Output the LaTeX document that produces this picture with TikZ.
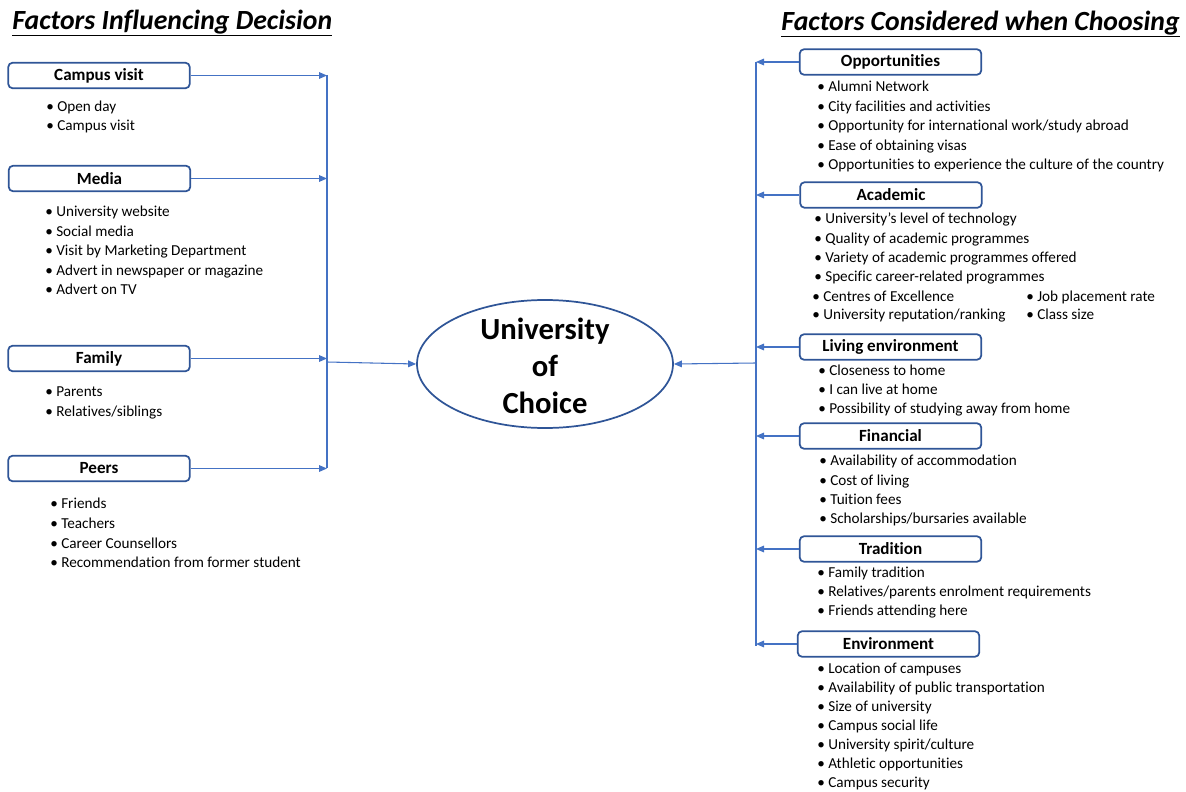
\documentclass[tikz,border=0pt]{standalone}
\usepackage{fontspec}
\setmainfont{Carlito}[Ligatures=NoCommon]
\usepackage{tikz}
\usetikzlibrary{arrows.meta, shapes}

\definecolor{boxblue}{HTML}{2F5597}
\definecolor{linkblue}{HTML}{4472C4}

\tikzset{
  catbox/.style={draw=boxblue, line width=1.3pt, rounded corners=3pt,
                 minimum width=136pt, minimum height=19pt, inner sep=0pt,
                 font=\fontsize{12.8}{14}\selectfont\bfseries},
  item/.style={anchor=west, inner sep=0pt, text height=7.8pt, text depth=2.2pt,
               font=\fontsize{11.4}{13}\selectfont},
  link/.style={draw=linkblue, line width=0.8pt, -{Triangle[length=6pt, width=5pt]}},
  bus/.style={draw=linkblue, line width=0.8pt},
  heading/.style={inner sep=0pt, font=\fontsize{20.8}{24}\selectfont\bfseries\itshape},
  choice/.style={ellipse, draw=boxblue, line width=1.3pt,
                 minimum width=192pt, minimum height=96pt}
}

\begin{document}
\begin{tikzpicture}[x=0.75pt, y=-0.75pt]
  \path[use as bounding box] (0,0) rectangle (1186,792);

  % titles
  \node[heading, anchor=west] (lefttitle) at (12,23) {\underline{Factors Influencing Decision}};
  \node[heading, anchor=east] (righttitle) at (1180,24) {\underline{Factors Considered when Choosing}};

  % centre
  \node[choice] (choice) at (545,364) {};
  \node[align=center, font=\fontsize{23}{28}\selectfont\bfseries] (choicetext) at (545,366)
    {University\\of\\Choice};

  % left side
  \node[catbox] (visit) at (99,75.5) {Campus visit};
  \node[catbox] (media) at (99.5,178.5) {Media};
  \node[catbox] (family) at (99,358.5) {Family};
  \node[catbox] (peers) at (99,468.5) {Peers};

  \foreach \t [count=\i from 0] in {Open day, Campus visit}
    \node[item] (cv-\i) at (46,{108+19*\i}) {\textbullet\ \t};
  \foreach \t [count=\i from 0] in {University website, Social media,
      Visit by Marketing Department, Advert in newspaper or magazine, Advert on TV}
    \node[item] (md-\i) at (45,{213+19.5*\i}) {\textbullet\ \t};
  \foreach \t [count=\i from 0] in {Parents, {Relatives/siblings}}
    \node[item] (fm-\i) at (45,{393+20*\i}) {\textbullet\ \t};
  \foreach \t [count=\i from 0] in {Friends, Teachers, Career Counsellors,
      Recommendation from former student}
    \node[item] (pr-\i) at (50,{505+19.7*\i}) {\textbullet\ \t};

  \coordinate (lbus) at (327,75);
  \coordinate (lbusend) at (327,468);
  \coordinate (ljoin) at (327,362);
  \draw[bus] (lbus) -- (lbusend);
  \foreach \b in {visit, media, family, peers}
    \draw[link] (\b.east) -- (\b.east -| lbus);
  \draw[link] (ljoin) -- (choice.west);

  % right side
  \node[catbox] (opp) at (890.5,62) {Opportunities};
  \node[catbox] (acad) at (891,195) {Academic};
  \node[catbox] (living) at (890.5,347) {Living environment};
  \node[catbox] (fin) at (890.5,436) {Financial};
  \node[catbox] (trad) at (890.5,549) {Tradition};
  \node[catbox] (env) at (888.5,644) {Environment};

  \foreach \t [count=\i from 0] in {Alumni Network, City facilities and activities,
      {Opportunity for international work/study abroad}, Ease of obtaining visas,
      Opportunities to experience the culture of the country}
    \node[item] (op-\i) at (817,{88+19.5*\i}) {\textbullet\ \t};
  \foreach \t [count=\i from 0] in {University’s level of technology,
      Quality of academic programmes, Variety of academic programmes offered,
      Specific career-related programmes}
    \node[item] (ac-\i) at (814,{220+19.3*\i}) {\textbullet\ \t};
  \node[item] (ac-4) at (812,298) {\textbullet\ Centres of Excellence};
  \node[item] (ac-5) at (812,316) {\textbullet\ University reputation/ranking};
  \node[item] (ac-6) at (1026,298) {\textbullet\ Job placement rate};
  \node[item] (ac-7) at (1026,316) {\textbullet\ Class size};
  \foreach \t [count=\i from 0] in {Closeness to home, I can live at home,
      Possibility of studying away from home}
    \node[item] (lv-\i) at (818,{372+19*\i}) {\textbullet\ \t};
  \foreach \t [count=\i from 0] in {Availability of accommodation, Cost of living,
      Tuition fees, {Scholarships/bursaries available}}
    \node[item] (fn-\i) at (819,{462+19.3*\i}) {\textbullet\ \t};
  \foreach \t [count=\i from 0] in {Family tradition,
      {Relatives/parents enrolment requirements}, Friends attending here}
    \node[item] (tr-\i) at (817,{574+19*\i}) {\textbullet\ \t};
  \foreach \t [count=\i from 0] in {Location of campuses,
      Availability of public transportation, Size of university, Campus social life,
      {University spirit/culture}, Athletic opportunities, Campus security}
    \node[item] (en-\i) at (817,{670+19*\i}) {\textbullet\ \t};

  \coordinate (rbus) at (756,62);
  \coordinate (rbusend) at (756,646);
  \coordinate (rjoin) at (756,363);
  \draw[bus] (rbus) -- (rbusend);
  \foreach \b in {opp, acad, living, fin, trad, env}
    \draw[link] (\b.west) -- (\b.west -| rbus);
  \draw[link] (rjoin) -- (choice.east);
\end{tikzpicture}
\end{document}
